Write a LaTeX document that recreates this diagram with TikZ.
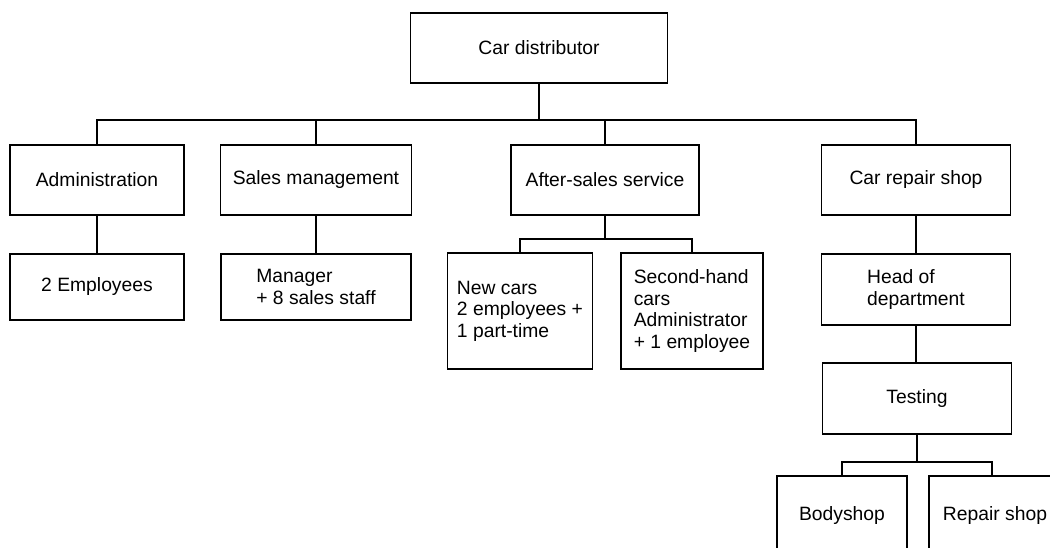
\documentclass[tikz,border=0pt]{standalone}
\usepackage{fontspec}
\setmainfont{Liberation Sans}
\tikzset{
  unit/.style={draw=black, line width=1.6bp, inner sep=0pt,
    font=\fontsize{19.3bp}{21.5bp}\selectfont, align=left},
  dims/.style 2 args={minimum width=#1bp, minimum height=#2bp},
  link/.style={draw=black, line width=1.6bp}
}
\begin{document}
\begin{tikzpicture}[x=1bp, y=-1bp]
  \useasboundingbox (0,0) rectangle (1050,548);
  \clip (0,0) rectangle (1050,548);

  % top of the organisation
  \node[unit, dims={257}{70}] (dist) at (539,48) {Car distributor};

  % departments
  \node[unit, dims={174}{70}] (adm) at (97,180)  {Administration};
  \node[unit, dims={191}{70}] (sal) at (316,180) {Sales management};
  \node[unit, dims={188}{70}] (ass) at (605,180) {After-sales service};
  \node[unit, dims={189}{70}] (crs) at (916,180) {Car repair shop};

  % staff of each department
  \node[unit, dims={174}{66}] (emp) at (97,287)    {2 Employees};
  \node[unit, dims={190}{66}] (man) at (316,287)   {Manager\\+ 8 sales staff};
  \node[unit, dims={145}{116}] (nc) at (520,311)   {New cars\\2 employees +\\1 part-time};
  \node[unit, dims={142}{116}] (sh) at (692,311)   {Second-hand\\cars\\Administrator\\+ 1 employee};
  \node[unit, dims={189}{71}] (hod) at (916,289.5) {Head of\\department};
  \node[unit, dims={189}{71}] (tst) at (917,398.5) {Testing};
  \node[unit, dims={130}{80}] (bod) at (842,516)   {Bodyshop};
  \node[unit, dims={132}{80}] (rep) at (995,516)   {Repair shop};

  % main bus
  \coordinate (bus) at (539,120);
  \draw[link] (dist.south) -- (bus);
  \draw[link] (adm.north) |- (bus) -| (crs.north);
  \draw[link] (sal.north) -- (sal.north |- bus);
  \draw[link] (ass.north) -- (ass.north |- bus);

  % below the departments
  \draw[link] (adm.south) -- (emp.north);
  \draw[link] (sal.south) -- (man.north);
  \draw[link] (crs.south) -- (hod.north);
  \draw[link] (hod.south) -- (hod.south |- tst.north);

  % after-sales branches
  \coordinate (asbus) at (605,239);
  \draw[link] (ass.south) -- (asbus);
  \draw[link] (nc.north) |- (asbus) -| (sh.north);

  % testing branches
  \coordinate (tbus) at (917,462);
  \draw[link] (tst.south) -- (tbus);
  \draw[link] (bod.north) |- (tbus) -| ([xshift=-3bp]rep.north);
\end{tikzpicture}
\end{document}
